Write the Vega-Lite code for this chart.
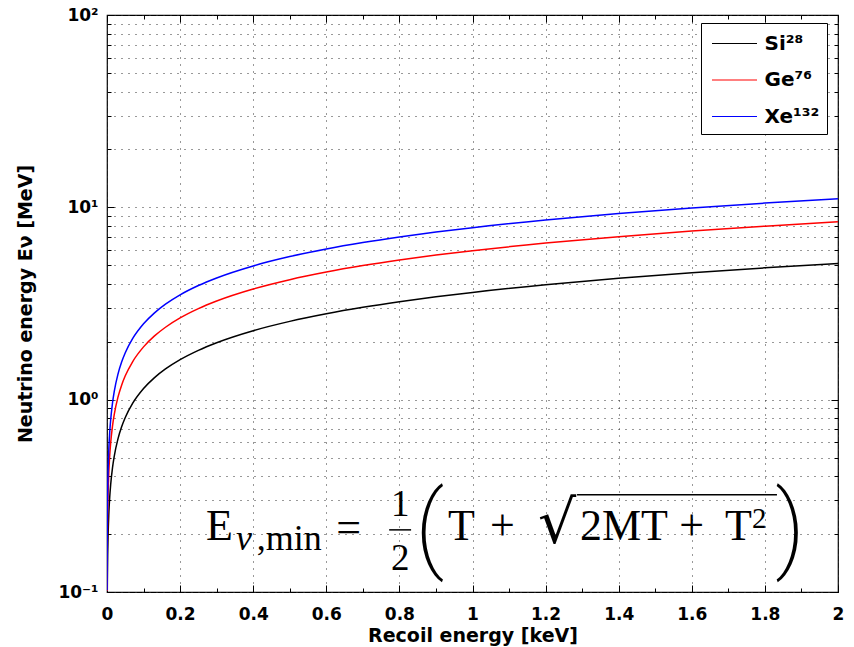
{
  "$schema": "https://vega.github.io/schema/vega-lite/v6.json",
  "width": 731,
  "height": 577,
  "autosize": {"type": "none"},
  "padding": {"left": 107, "top": 15, "right": 16, "bottom": 55},
  "background": "white",
  "config": {
    "view": {"stroke": "black", "strokeWidth": 1.2},
    "font": "DejaVu Sans",
    "axis": {
      "labelFont": "DejaVu Sans",
      "labelFontWeight": "bold",
      "labelFontSize": 17,
      "labelColor": "black",
      "titleFont": "DejaVu Sans",
      "titleFontWeight": "bold",
      "titleFontSize": 19,
      "titleColor": "black",
      "domain": false,
      "tickColor": "black",
      "tickWidth": 1,
      "gridColor": "#333333",
      "gridDash": [1, 6],
      "gridOpacity": 1,
      "gridWidth": 1
    }
  },
  "datasets": {
    "curves": [
      {"T": 0.00077, "E": 0.1002, "n": "Si²⁸"}, {"T": 0.001, "E": 0.1142, "n": "Si²⁸"}, {"T": 0.002, "E": 0.1615, "n": "Si²⁸"}, {"T": 0.003, "E": 0.1978, "n": "Si²⁸"}, {"T": 0.005, "E": 0.2554, "n": "Si²⁸"}, {"T": 0.0075, "E": 0.3127, "n": "Si²⁸"}, {"T": 0.01, "E": 0.3611, "n": "Si²⁸"}, {"T": 0.015, "E": 0.4423, "n": "Si²⁸"}, {"T": 0.02, "E": 0.5107, "n": "Si²⁸"}, {"T": 0.03, "E": 0.6255, "n": "Si²⁸"}, {"T": 0.04, "E": 0.7222, "n": "Si²⁸"}, {"T": 0.05, "E": 0.8075, "n": "Si²⁸"}, {"T": 0.07, "E": 0.9554, "n": "Si²⁸"}, {"T": 0.1, "E": 1.142, "n": "Si²⁸"}, {"T": 0.13, "E": 1.302, "n": "Si²⁸"}, {"T": 0.16, "E": 1.4445, "n": "Si²⁸"}, {"T": 0.2, "E": 1.615, "n": "Si²⁸"}, {"T": 0.25, "E": 1.8056, "n": "Si²⁸"}, {"T": 0.3, "E": 1.9779, "n": "Si²⁸"}, {"T": 0.4, "E": 2.2839, "n": "Si²⁸"}, {"T": 0.5, "E": 2.5535, "n": "Si²⁸"}, {"T": 0.6, "E": 2.7972, "n": "Si²⁸"}, {"T": 0.7, "E": 3.0214, "n": "Si²⁸"}, {"T": 0.8, "E": 3.2299, "n": "Si²⁸"}, {"T": 0.9, "E": 3.4258, "n": "Si²⁸"}, {"T": 1.0, "E": 3.6112, "n": "Si²⁸"}, {"T": 1.2, "E": 3.9559, "n": "Si²⁸"}, {"T": 1.4, "E": 4.2728, "n": "Si²⁸"}, {"T": 1.6, "E": 4.5678, "n": "Si²⁸"}, {"T": 1.8, "E": 4.845, "n": "Si²⁸"}, {"T": 2.0, "E": 5.107, "n": "Si²⁸"},
      {"T": 0.00029, "E": 0.1013, "n": "Ge⁷⁶"}, {"T": 0.0005, "E": 0.133, "n": "Ge⁷⁶"}, {"T": 0.0008, "E": 0.1683, "n": "Ge⁷⁶"}, {"T": 0.001, "E": 0.1881, "n": "Ge⁷⁶"}, {"T": 0.002, "E": 0.2661, "n": "Ge⁷⁶"}, {"T": 0.003, "E": 0.3259, "n": "Ge⁷⁶"}, {"T": 0.005, "E": 0.4207, "n": "Ge⁷⁶"}, {"T": 0.0075, "E": 0.5152, "n": "Ge⁷⁶"}, {"T": 0.01, "E": 0.595, "n": "Ge⁷⁶"}, {"T": 0.015, "E": 0.7287, "n": "Ge⁷⁶"}, {"T": 0.02, "E": 0.8414, "n": "Ge⁷⁶"}, {"T": 0.03, "E": 1.0305, "n": "Ge⁷⁶"}, {"T": 0.04, "E": 1.1899, "n": "Ge⁷⁶"}, {"T": 0.05, "E": 1.3303, "n": "Ge⁷⁶"}, {"T": 0.07, "E": 1.5741, "n": "Ge⁷⁶"}, {"T": 0.1, "E": 1.8814, "n": "Ge⁷⁶"}, {"T": 0.13, "E": 2.1451, "n": "Ge⁷⁶"}, {"T": 0.16, "E": 2.3798, "n": "Ge⁷⁶"}, {"T": 0.2, "E": 2.6607, "n": "Ge⁷⁶"}, {"T": 0.25, "E": 2.9748, "n": "Ge⁷⁶"}, {"T": 0.3, "E": 3.2587, "n": "Ge⁷⁶"}, {"T": 0.4, "E": 3.7628, "n": "Ge⁷⁶"}, {"T": 0.5, "E": 4.2069, "n": "Ge⁷⁶"}, {"T": 0.6, "E": 4.6085, "n": "Ge⁷⁶"}, {"T": 0.7, "E": 4.9777, "n": "Ge⁷⁶"}, {"T": 0.8, "E": 5.3214, "n": "Ge⁷⁶"}, {"T": 0.9, "E": 5.6442, "n": "Ge⁷⁶"}, {"T": 1.0, "E": 5.9495, "n": "Ge⁷⁶"}, {"T": 1.2, "E": 6.5173, "n": "Ge⁷⁶"}, {"T": 1.4, "E": 7.0395, "n": "Ge⁷⁶"}, {"T": 1.6, "E": 7.5256, "n": "Ge⁷⁶"}, {"T": 1.8, "E": 7.9821, "n": "Ge⁷⁶"}, {"T": 2.0, "E": 8.4139, "n": "Ge⁷⁶"},
      {"T": 0.00017, "E": 0.1022, "n": "Xe¹³²"}, {"T": 0.0003, "E": 0.1358, "n": "Xe¹³²"}, {"T": 0.0005, "E": 0.1753, "n": "Xe¹³²"}, {"T": 0.0008, "E": 0.2218, "n": "Xe¹³²"}, {"T": 0.001, "E": 0.248, "n": "Xe¹³²"}, {"T": 0.002, "E": 0.3507, "n": "Xe¹³²"}, {"T": 0.003, "E": 0.4295, "n": "Xe¹³²"}, {"T": 0.005, "E": 0.5544, "n": "Xe¹³²"}, {"T": 0.0075, "E": 0.679, "n": "Xe¹³²"}, {"T": 0.01, "E": 0.7841, "n": "Xe¹³²"}, {"T": 0.015, "E": 0.9603, "n": "Xe¹³²"}, {"T": 0.02, "E": 1.1089, "n": "Xe¹³²"}, {"T": 0.03, "E": 1.3581, "n": "Xe¹³²"}, {"T": 0.04, "E": 1.5682, "n": "Xe¹³²"}, {"T": 0.05, "E": 1.7533, "n": "Xe¹³²"}, {"T": 0.07, "E": 2.0745, "n": "Xe¹³²"}, {"T": 0.1, "E": 2.4795, "n": "Xe¹³²"}, {"T": 0.13, "E": 2.8271, "n": "Xe¹³²"}, {"T": 0.16, "E": 3.1364, "n": "Xe¹³²"}, {"T": 0.2, "E": 3.5066, "n": "Xe¹³²"}, {"T": 0.25, "E": 3.9205, "n": "Xe¹³²"}, {"T": 0.3, "E": 4.2947, "n": "Xe¹³²"}, {"T": 0.4, "E": 4.959, "n": "Xe¹³²"}, {"T": 0.5, "E": 5.5444, "n": "Xe¹³²"}, {"T": 0.6, "E": 6.0736, "n": "Xe¹³²"}, {"T": 0.7, "E": 6.5602, "n": "Xe¹³²"}, {"T": 0.8, "E": 7.0131, "n": "Xe¹³²"}, {"T": 0.9, "E": 7.4385, "n": "Xe¹³²"}, {"T": 1.0, "E": 7.8409, "n": "Xe¹³²"}, {"T": 1.2, "E": 8.5893, "n": "Xe¹³²"}, {"T": 1.4, "E": 9.2775, "n": "Xe¹³²"}, {"T": 1.6, "E": 9.918, "n": "Xe¹³²"}, {"T": 1.8, "E": 10.5197, "n": "Xe¹³²"}, {"T": 2.0, "E": 11.0887, "n": "Xe¹³²"}
    ]
  },
  "layer": [
    {
      "data": {"name": "curves"},
      "mark": {"type": "line", "strokeWidth": 1.5, "clip": true, "interpolate": "monotone"},
      "encoding": {
        "x": {
          "field": "T", "type": "quantitative",
          "scale": {"domain": [0, 2], "nice": false, "zero": false},
          "axis": {"orient": "bottom", "values": [0, 0.2, 0.4, 0.6, 0.8, 1, 1.2, 1.4, 1.6, 1.8, 2], "format": "~g", "grid": true, "tickSize": -7, "labelPadding": 21, "title": "Recoil energy [keV]", "titlePadding": 4, "labelFlush": false}
        },
        "y": {
          "field": "E", "type": "quantitative",
          "scale": {"type": "log", "domain": [0.1, 100], "nice": false},
          "axis": {"orient": "left", "values": [0.1, 1, 10, 100], "grid": true, "tickSize": -7, "labelPadding": 16,
            "labelExpr": "datum.value < 0.5 ? '10⁻¹' : datum.value < 5 ? '10⁰' : datum.value < 50 ? '10¹' : '10²'",
            "title": "Neutrino energy Eν [MeV]", "titlePadding": 22, "labelFlush": false}
        },
        "color": {
          "field": "n", "type": "nominal",
          "scale": {"domain": ["Si²⁸", "Ge⁷⁶", "Xe¹³²"], "range": ["#000000", "#ff0000", "#0000ff"]},
          "legend": {"orient": "none", "legendX": 594, "legendY": 8, "title": null, "symbolType": "M-1.875,0H1.875", "symbolSize": 576, "symbolStrokeWidth": 1.2, "symbolOffset": 13, "labelFont": "DejaVu Sans", "labelFontWeight": "bold", "labelFontSize": 20, "labelColor": "black", "labelExpr": "datum.label + ' '", "strokeColor": "black", "fillColor": "white", "padding": 7.5, "rowPadding": 13.5, "labelOffset": 17}
        }
      }
    },
    {
      "data": {"values": [{"x": 0.271, "y": 0.1866, "t": "E"}, {"x": 0.627, "y": 0.182, "t": "="}, {"x": 0.933, "y": 0.1866, "t": "T"}, {"x": 1.048, "y": 0.1866, "t": "+"}, {"x": 1.294, "y": 0.1866, "t": "2MT"}, {"x": 1.566, "y": 0.1866, "t": "+"}, {"x": 1.691, "y": 0.1866, "t": "T"}]},
      "mark": {"type": "text", "font": "Liberation Serif", "fontSize": 44, "align": "left", "baseline": "alphabetic"},
      "encoding": {
        "x": {"field": "x", "type": "quantitative", "axis": {"orient": "top", "values": [0, 0.2, 0.4, 0.6, 0.8, 1, 1.2, 1.4, 1.6, 1.8, 2], "labels": false, "grid": false, "tickSize": -7, "title": null}},
        "y": {"field": "y", "type": "quantitative", "axis": {"orient": "right", "values": [0.1, 1, 10, 100], "labels": false, "grid": false, "tickSize": -7, "title": null}},
        "text": {"field": "t"}
      }
    },
    {
      "data": {"values": [{"x": 0.802, "y": 0.249, "t": "1"}, {"x": 0.802, "y": 0.13, "t": "2"}]},
      "mark": {"type": "text", "font": "Liberation Serif", "fontSize": 37, "align": "center", "baseline": "alphabetic"},
      "encoding": {
        "x": {"field": "x", "type": "quantitative", "axis": {"orient": "bottom", "values": [0.1, 0.3, 0.5, 0.7, 0.9, 1.1, 1.3, 1.5, 1.7, 1.9], "labels": false, "grid": false, "tickSize": -4, "title": null}},
        "y": {"field": "y", "type": "quantitative", "axis": {"orient": "left", "values": [0.2, 0.3, 0.4, 0.5, 0.6, 0.7, 0.8, 0.9, 2, 3, 4, 5, 6, 7, 8, 9, 20, 30, 40, 50, 60, 70, 80, 90], "labels": false, "grid": true, "tickSize": -4, "title": null}},
        "text": {"field": "t"}
      }
    },
    {
      "data": {"values": [{"x": 0.41, "y": 0.1655, "t": ",min"}]},
      "mark": {"type": "text", "font": "Liberation Serif", "fontSize": 36, "align": "left", "baseline": "alphabetic"},
      "encoding": {
        "x": {"field": "x", "type": "quantitative", "axis": {"orient": "top", "values": [0.1, 0.3, 0.5, 0.7, 0.9, 1.1, 1.3, 1.5, 1.7, 1.9], "labels": false, "grid": false, "tickSize": -4, "title": null}},
        "y": {"field": "y", "type": "quantitative", "axis": {"orient": "right", "values": [0.2, 0.3, 0.4, 0.5, 0.6, 0.7, 0.8, 0.9, 2, 3, 4, 5, 6, 7, 8, 9, 20, 30, 40, 50, 60, 70, 80, 90], "labels": false, "grid": false, "tickSize": -4, "title": null}},
        "text": {"field": "t"}
      }
    },
    {
      "data": {"values": [{"x": 1.765, "y": 0.2154, "t": "2"}]},
      "mark": {"type": "text", "font": "Liberation Serif", "fontSize": 29, "align": "left", "baseline": "alphabetic"},
      "encoding": {
        "x": {"field": "x", "type": "quantitative", "axis": null},
        "y": {"field": "y", "type": "quantitative", "axis": null},
        "text": {"field": "t"}
      }
    },
    {
      "data": {"values": [{"x": 0.353, "y": 0.1655, "t": "ν"}]},
      "mark": {"type": "text", "font": "Liberation Serif", "fontSize": 36, "fontStyle": "italic", "align": "left", "baseline": "alphabetic"},
      "encoding": {
        "x": {"field": "x", "type": "quantitative", "axis": null},
        "y": {"field": "y", "type": "quantitative", "axis": null},
        "text": {"field": "t"}
      }
    },
    {
      "data": {"values": [{"x": 0.843, "y": 0.147, "t": "("}, {"x": 1.828, "y": 0.147, "t": ")"}]},
      "mark": {"type": "text", "font": "Roboto", "fontWeight": 200, "fontSize": 96, "align": "left", "baseline": "alphabetic"},
      "encoding": {
        "x": {"field": "x", "type": "quantitative", "axis": null},
        "y": {"field": "y", "type": "quantitative", "axis": null},
        "text": {"field": "t"}
      }
    },
    {
      "data": {"values": [{"x": 1.179, "y": 0.18, "t": "√"}]},
      "mark": {"type": "text", "font": "DejaVu Serif", "fontSize": 60, "align": "left", "baseline": "alphabetic"},
      "encoding": {
        "x": {"field": "x", "type": "quantitative", "axis": null},
        "y": {"field": "y", "type": "quantitative", "axis": null},
        "text": {"field": "t"}
      }
    },
    {
      "data": {"values": [{"x": 0.772, "x2": 0.832, "y": 0.2104}, {"x": 1.286, "x2": 1.833, "y": 0.32}]},
      "mark": {"type": "rule", "strokeWidth": 1.5},
      "encoding": {
        "x": {"field": "x", "type": "quantitative", "axis": null},
        "x2": {"field": "x2"},
        "y": {"field": "y", "type": "quantitative", "axis": null}
      }
    }
  ],
  "resolve": {"axis": {"x": "independent", "y": "independent"}}
}
